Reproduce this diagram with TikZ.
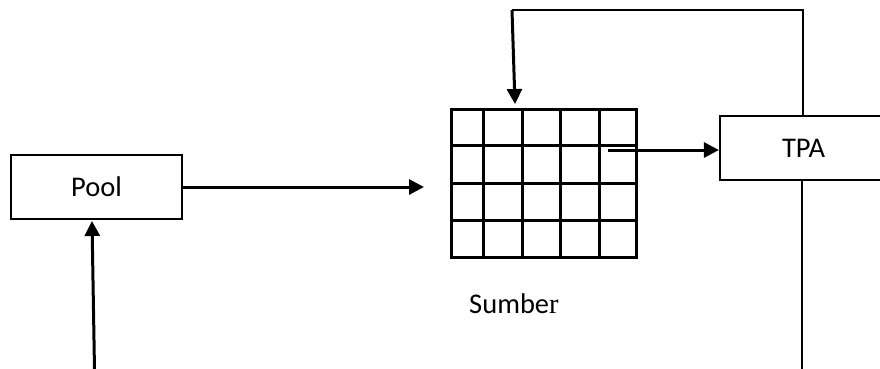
\documentclass[tikz,border=0pt]{standalone}
\usepackage{fontspec}
\setmainfont{Carlito}
\newfontfamily\serifr{Liberation Serif}
\usetikzlibrary{arrows.meta}
\begin{document}
\begin{tikzpicture}[x=1pt,y=-1pt,
  label font/.style={font=\fontsize{28.5}{32}\selectfont},
  block/.style={draw,line width=2.2pt,inner sep=0pt,label font},
  flow/.style={line width=3pt,-{Triangle[length=15pt,width=15pt]}},
  wire/.style={line width=2.6pt},
  cell/.style={line width=3pt}]
\useasboundingbox (0,0) rectangle (880,368);
\clip (0,0) rectangle (880,368);
\fill[white] (0,0) rectangle (880,368);

% blocks
\node[block,minimum width=171pt,minimum height=64pt] (pool) at (96.5,187) {Pool};
\node[block,minimum width=171pt,minimum height=64pt,text width=171pt,align=left] (tpa) at (805.5,148) {\hspace*{62pt}TPA};

% source grid: 5 columns x 4 rows
\node[draw,cell,minimum width=185pt,minimum height=148pt,inner sep=0pt] (grid) at (543.5,183) {};
\foreach \gx in {483,522,560,599}
  \draw[cell] (\gx,109) -- (\gx,257);
\foreach \gy in {145,183,220}
  \draw[cell] (451,\gy) -- (636,\gy);
\node[label font,anchor=base west,inner sep=0pt] (sumber) at (469,313) {Sumbe{\serifr r}};

% connectors
\coordinate (poolout) at (424,187);
\draw[flow] (pool.east) -- (poolout);

\coordinate (feedin) at (94.5,370);
\draw[flow] (feedin) -- (92,221) coordinate (poolin);

\coordinate (cellout) at (608,150);
\draw[flow] (cellout) -- (tpa.west |- cellout);

\coordinate (loopcorner) at (803,10);
\coordinate (loopleft) at (512,10);
\coordinate (gridin) at (515,104);
\draw[wire] (tpa.north -| loopcorner) -- (loopcorner) -- (loopleft);
\draw[flow] (loopleft) -- (gridin);

\coordinate (tpadown) at (802,370);
\draw[wire] (tpa.south -| tpadown) -- (tpadown);
\end{tikzpicture}
\end{document}
